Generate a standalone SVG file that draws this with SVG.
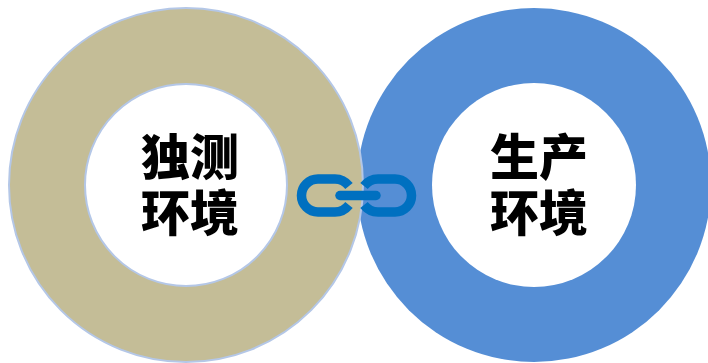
<svg xmlns="http://www.w3.org/2000/svg" width="708" height="363" viewBox="0 0 708 363">
<style>
.ring{stroke:#b4c7e7;stroke-width:2;fill-rule:evenodd}
.label{font-family:"Noto Sans CJK SC","Noto Sans",sans-serif;font-weight:900;font-size:49px;text-anchor:middle;fill:#000}
.link{fill:none;stroke:#0070c0;stroke-width:9.5}
.bar{fill:none;stroke:#0070c0;stroke-width:9.5;stroke-linecap:round}
</style>
<rect width="708" height="363" fill="#fff"/>
<g id="prod-env">
<circle cx="534" cy="185" r="177" fill="#558ed5"/>
<circle cx="534" cy="185" r="102" fill="#fff"/>
<text class="label" y="175"><tspan x="539">生产</tspan><tspan x="539" y="231">环境</tspan></text>
</g>
<g id="test-env">
<path class="ring" fill="#c4bd97" d="M186 8a177 177 0 1 0 0 354a177 177 0 1 0 0-354zM186 84a101 101 0 1 1 0 202a101 101 0 1 1 0-202z"/>
<text class="label" y="175"><tspan x="190">独测</tspan><tspan x="190" y="231">环境</tspan></text>
</g>
<g id="connectors">
<path class="link" d="M349 186C345 181 340 179 335 179L318 179A16.500 16.500 0 0 0 318 212L335 212C340 212 345 210 349 205"/>
<path class="link" d="M364 186C368 181 373 179 378 179L395 179A16.500 16.500 0 0 1 395 212L378 212C373 212 368 210 364 205"/>
<path class="bar" d="M340 195.500L376 195.500"/>
</g>
</svg>
